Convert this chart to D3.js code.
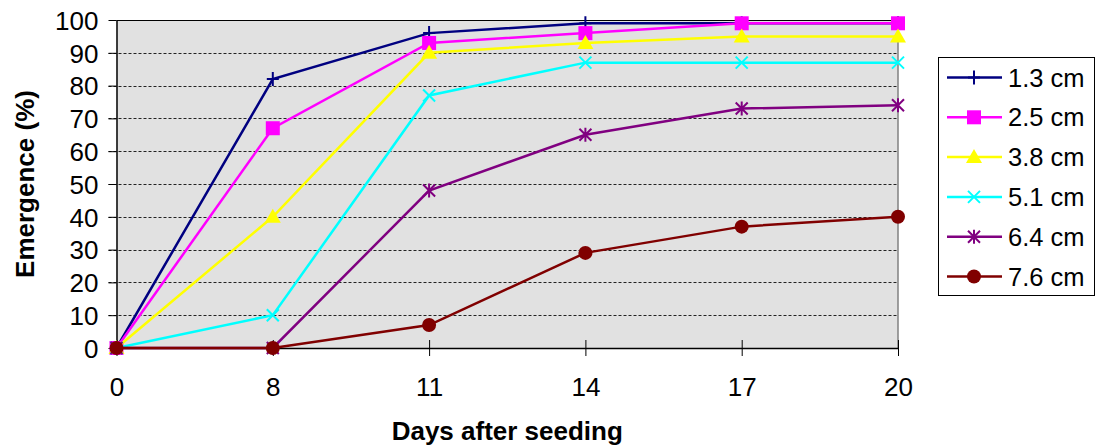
<!DOCTYPE html>
<html>
<head>
<meta charset="utf-8">
<script src="https://cdn.jsdelivr.net/npm/d3@7"></script>
<style>
  body { margin: 0; background: #fff; }
  svg text { font-family: Arial, "Liberation Sans", sans-serif; fill: #000; }
</style>
</head>
<body>
<div id="chart"></div>
<script>
// data
var days = ["0", "8", "11", "14", "17", "20"];
var depths = ["1.3 cm", "2.5 cm", "3.8 cm", "5.1 cm", "6.4 cm", "7.6 cm"];
var s13 = [0, 82, 96, 99, 99, 99];
var s25 = [0, 67, 93, 96, 99, 99];
var s38 = [0, 40, 90, 93, 95, 95];
var s51 = [0, 10, 77, 87, 87, 87];
var s64 = [0, 0, 48, 65, 73, 74];
var s76 = [0, 0, 7, 29, 37, 40];
var yTicks = [0, 10, 20, 30, 40, 50, 60, 70, 80, 90, 100];

var colors = ["#000080", "#ff00ff", "#ffff00", "#00ffff", "#800080", "#800000"];
var shapes = ["plus", "square", "triangle", "cross", "star", "circle"];
var seriesVals = [s13, s25, s38, s51, s64, s76];

var series = depths.map(function(name, i) {
  return { name: name, color: colors[i], shape: shapes[i], values: seriesVals[i] };
});

var svgWidth = 1097;
var svgHeight = 446;
var margin = { top: 20, right: 199, bottom: 98, left: 116.5 };
var width = svgWidth - margin.left - margin.right;
var height = svgHeight - margin.top - margin.bottom;

var svg = d3.select("#chart")
  .append("svg")
  .attr("width", svgWidth)
  .attr("height", svgHeight);

var chartGroup = svg.append("g")
  .attr("transform", `translate(${margin.left}, ${margin.top})`);

var x = d3.scalePoint().domain(days).range([0, width]).padding(0);
var y = d3.scaleLinear().domain([0, 100]).range([height, 0]);

// plot background
chartGroup.append("rect")
  .attr("width", width)
  .attr("height", height)
  .attr("fill", "#e1e1e1");

// grid lines
chartGroup.selectAll(".grid")
  .data(yTicks.filter(d => d > 0 && d < 100))
  .enter()
  .append("line")
  .attr("x1", -8)
  .attr("x2", width)
  .attr("y1", d => Math.round(y(d)) + 0.5)
  .attr("y2", d => Math.round(y(d)) + 0.5)
  .attr("stroke", "#222")
  .attr("stroke-width", 1)
  .attr("stroke-dasharray", "3,2");

// frame: top black, right grey
chartGroup.append("line")
  .attr("x1", 0).attr("x2", width)
  .attr("y1", 0.5).attr("y2", 0.5)
  .attr("stroke", "#000");
chartGroup.append("line")
  .attr("x1", width).attr("x2", width)
  .attr("y1", 0).attr("y2", height)
  .attr("stroke", "#808080")
  .attr("stroke-width", 1.5);

// axes
var bottomAxis = d3.axisBottom(x).tickSizeInner(8).tickSizeOuter(0);
var leftAxis = d3.axisLeft(y).tickValues(yTicks).tickSizeInner(8).tickSizeOuter(0).tickPadding(10);

var xAxisG = chartGroup.append("g")
  .attr("transform", `translate(0, ${height})`)
  .call(bottomAxis);
xAxisG.selectAll(".tick line").attr("y1", -8).attr("stroke", "#000");
xAxisG.selectAll(".tick text")
  .attr("font-size", "26px")
  .attr("font-family", "Arial, 'Liberation Sans', sans-serif")
  .attr("y", 39)
  .attr("dy", "0.36em");

var yAxisG = chartGroup.append("g").call(leftAxis);
yAxisG.selectAll(".tick text")
  .attr("font-size", "26px")
  .attr("font-family", "Arial, 'Liberation Sans', sans-serif")
  .attr("dy", "0.36em");

chartGroup.selectAll(".domain").attr("stroke", "#000").attr("stroke-width", 1.5);

// marker drawing
function marker(g, shape, color) {
  if (shape === "plus") {
    g.append("path").attr("d", "M-6,0H6M0,-7V7")
      .attr("stroke", color).attr("stroke-width", 2).attr("fill", "none");
  } else if (shape === "square") {
    g.append("rect").attr("x", -7).attr("y", -7).attr("width", 14).attr("height", 14)
      .attr("fill", color);
  } else if (shape === "triangle") {
    g.append("path").attr("d", "M0,-8L8,6H-8Z").attr("fill", color);
  } else if (shape === "cross") {
    g.append("path").attr("d", "M-6,-6L6,6M-6,6L6,-6")
      .attr("stroke", color).attr("stroke-width", 2).attr("fill", "none");
  } else if (shape === "star") {
    g.append("path").attr("d", "M-6,-6L6,6M-6,6L6,-6M0,-7V7")
      .attr("stroke", color).attr("stroke-width", 2).attr("fill", "none");
  } else if (shape === "circle") {
    g.append("circle").attr("r", 7).attr("fill", color);
  }
}

var line = d3.line()
  .x((d, i) => x(days[i]))
  .y(d => y(d));

var seriesG = chartGroup.selectAll(".series")
  .data(series)
  .enter()
  .append("g")
  .attr("class", "series");

seriesG.append("path")
  .attr("d", d => line(d.values))
  .attr("fill", "none")
  .attr("stroke", d => d.color)
  .attr("stroke-width", 2.5);

seriesG.each(function(s) {
  var g = d3.select(this);
  s.values.forEach(function(v, i) {
    var m = g.append("g").attr("transform", `translate(${x(days[i])}, ${y(v)})`);
    marker(m, s.shape, s.color);
  });
});

// legend
var legend = svg.append("g").attr("transform", "translate(938, 57)");
legend.append("rect")
  .attr("x", 0.5).attr("y", 0.5)
  .attr("width", 156).attr("height", 238)
  .attr("fill", "#fff")
  .attr("stroke", "#000")
  .attr("stroke-width", 1);

var items = legend.selectAll(".item")
  .data(series)
  .enter()
  .append("g")
  .attr("transform", (d, i) => `translate(0, ${20.5 + i * 39.8})`);

items.append("line")
  .attr("x1", 9).attr("x2", 64)
  .attr("stroke", d => d.color)
  .attr("stroke-width", 2.5);
items.each(function(s) {
  var m = d3.select(this).append("g").attr("transform", "translate(36, 0)");
  marker(m, s.shape, s.color);
});
items.append("text")
  .attr("x", 70)
  .attr("dy", "0.36em")
  .attr("font-size", "25.5px")
  .text(d => d.name);

// axis titles
svg.append("text")
  .attr("transform", `translate(${margin.left + width / 2}, 440)`)
  .attr("text-anchor", "middle")
  .attr("font-size", "26px")
  .attr("font-weight", "bold")
  .text("Days after seeding");

svg.append("text")
  .attr("transform", `translate(34, ${margin.top + height / 2}) rotate(-90)`)
  .attr("text-anchor", "middle")
  .attr("font-size", "26px")
  .attr("font-weight", "bold")
  .text("Emergence (%)");
</script>
</body>
</html>
